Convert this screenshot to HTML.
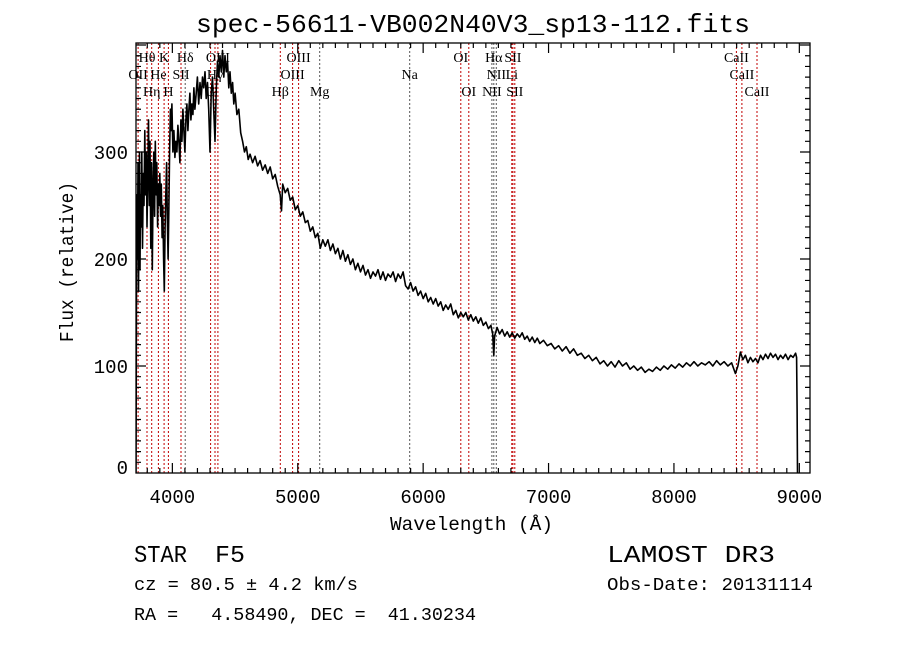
<!DOCTYPE html>
<html><head><meta charset="utf-8"><style>
html,body{margin:0;padding:0;background:#fff}
svg{display:block}
text{font-family:"Liberation Mono",monospace;fill:#000;white-space:pre}
.lab{font-family:"Liberation Serif",serif;font-size:14px}
</style></head><body>
<svg id="chart" width="900" height="649" viewBox="0 0 900 649" xmlns="http://www.w3.org/2000/svg" xml:space="preserve">
<rect width="900" height="649" fill="#fff"/>
<defs><clipPath id="pc"><rect x="136" y="43" width="674" height="430"/></clipPath></defs>
<text x="196" y="32" font-size="26" textLength="554" lengthAdjust="spacingAndGlyphs">spec-56611-VB002N40V3_sp13-112.fits</text>
<g id="lines"></g>
<g id="labels"></g>
<g id="spec" clip-path="url(#pc)"></g>
<g id="axes"></g>
<text x="390" y="530" font-size="19" textLength="163" lengthAdjust="spacingAndGlyphs">Wavelength (Å)</text>
<text transform="translate(73,342) rotate(-90)" font-size="19" textLength="160" lengthAdjust="spacingAndGlyphs">Flux (relative)</text>
<text x="134" y="562" font-size="24" textLength="53" lengthAdjust="spacingAndGlyphs">STAR</text>
<text x="215" y="562" font-size="24" textLength="30" lengthAdjust="spacingAndGlyphs">F5</text>
<text x="607" y="562" font-size="24" textLength="168" lengthAdjust="spacingAndGlyphs">LAMOST DR3</text>
<text x="134" y="590" font-size="18" textLength="224" lengthAdjust="spacingAndGlyphs">cz = 80.5 ± 4.2 km/s</text>
<text x="607" y="590" font-size="18" textLength="206" lengthAdjust="spacingAndGlyphs">Obs-Date: 20131114</text>
<text x="134" y="620" font-size="18" textLength="342" lengthAdjust="spacingAndGlyphs">RA =   4.58490, DEC =  41.30234</text>
</svg>
<script>
const wl=[3710,3714,3718,3722,3726,3730,3734,3738,3742,3746,3750,3756,3762,3768,3774,3780,3786,3792,3798,3804,3810,3816,3822,3828,3834,3840,3846,3852,3858,3864,3870,3876,3882,3888,3894,3900,3906,3912,3918,3924,3930,3936,3942,3948,3954,3960,3966,3972,3978,3984,3990,3996,4004,4012,4020,4028,4036,4044,4052,4060,4068,4076,4084,4092,4100,4108,4116,4124,4132,4140,4148,4156,4164,4172,4180,4190,4200,4210,4220,4230,4240,4250,4260,4270,4280,4290,4300,4310,4320,4330,4340,4350,4360,4370,4380,4390,4400,4410,4420,4430,4440,4450,4460,4470,4480,4490,4500,4515,4530,4545,4560,4575,4590,4605,4620,4640,4660,4680,4700,4720,4740,4760,4780,4800,4820,4840,4860,4870,4880,4900,4920,4940,4960,4980,5000,5020,5040,5060,5080,5100,5120,5140,5160,5180,5200,5220,5240,5260,5280,5300,5320,5340,5360,5380,5400,5420,5440,5460,5480,5500,5520,5540,5560,5580,5600,5620,5640,5660,5680,5700,5720,5740,5760,5780,5800,5820,5840,5860,5880,5900,5920,5940,5960,5980,6000,6020,6040,6060,6080,6100,6120,6140,6160,6180,6200,6220,6240,6260,6280,6300,6320,6340,6360,6380,6400,6420,6440,6460,6480,6500,6520,6540,6555,6563,6570,6590,6610,6630,6650,6670,6690,6710,6730,6750,6770,6790,6810,6830,6850,6870,6890,6910,6930,6960,6990,7020,7050,7080,7110,7140,7170,7200,7230,7260,7290,7320,7350,7380,7410,7440,7470,7500,7530,7560,7590,7620,7650,7680,7710,7740,7770,7800,7830,7860,7890,7920,7950,7980,8010,8040,8070,8100,8130,8160,8190,8220,8250,8280,8310,8340,8370,8400,8430,8460,8490,8510,8530,8550,8570,8590,8610,8630,8650,8670,8690,8710,8730,8750,8770,8790,8810,8830,8850,8870,8890,8910,8930,8950,8970,8978,8982,8985];
const flux=[0,180,260,200,290,170,240,300,190,260,230,300,210,280,250,320,260,300,230,280,330,250,310,210,290,190,270,300,240,310,260,290,230,270,250,280,240,270,220,250,200,170,230,260,290,240,200,250,300,340,320,345,300,320,295,310,300,325,310,290,330,310,340,320,300,330,345,320,340,355,330,345,335,360,340,355,370,345,365,350,370,360,375,350,365,340,300,355,370,340,310,360,385,370,390,375,395,370,390,375,385,360,375,355,365,345,355,335,340,318,310,300,305,293,298,290,296,287,292,283,288,280,286,275,279,268,260,245,270,262,266,255,258,246,250,240,244,234,236,226,230,220,224,210,218,212,218,208,214,205,210,200,208,198,204,195,200,190,196,188,194,185,190,182,188,184,190,181,188,180,186,183,188,179,186,182,188,175,172,178,170,174,166,170,163,168,160,164,158,163,156,160,152,157,153,158,148,152,145,150,146,150,143,148,142,146,140,145,138,141,135,138,130,110,128,136,130,134,128,132,127,131,126,130,127,131,125,128,123,127,122,126,121,124,119,121,116,119,114,118,112,116,110,112,107,110,105,108,102,105,100,104,99,105,100,103,97,100,96,99,94,97,95,99,96,100,97,101,98,102,99,103,100,104,100,103,101,104,100,105,101,104,100,103,93,100,113,106,110,103,108,104,107,103,110,106,111,107,112,108,111,106,110,107,111,106,110,108,112,108,60,0];
const lineWl=[3727,3798,3835,3889,3934,3968,4069,4102,4305,4340,4363,4861,4959,5007,5175,5893,6300,6364,6548,6563,6583,6707,6716,6731,8498,8542,8662];
const lineNames=["OII","Hθ","Hη","He","K","H","SII","Hδ","G","Hγ","OIII","Hβ","OIII","OIII","Mg","Na","OI","OI","NII","Hα","NII","Li","SII","SII","CaII","CaII","CaII"];
const lineRows=[2,1,3,2,1,3,2,1,3,2,1,3,2,1,3,2,1,3,3,1,2,2,1,3,1,2,3];
const darkLines=["Hδ","Mg","Na","NII","Hα"];
const xTicks=[4000,5000,6000,7000,8000,9000];
const yTicks=[0,100,200,300];
const X0=136,X1=810,Y0=473,Y1=43,WMIN=3710,WMAX=9085,FMAX=401.9;
const sx=w=>X0+(w-WMIN)/(WMAX-WMIN)*(X1-X0);
const sy=f=>Y0-f/FMAX*(Y0-Y1);
const NS="http://www.w3.org/2000/svg";
function mk(t,a,p){const e=document.createElementNS(NS,t);for(const k in a)e.setAttribute(k,a[k]);p.appendChild(e);return e;}
const gl=document.getElementById('lines'),glab=document.getElementById('labels');
lineWl.forEach((w,i)=>{
  const x=sx(w).toFixed(1);
  const l=mk('line',{x1:x,x2:x,y1:Y1,y2:Y0,stroke:darkLines.includes(lineNames[i])?'#555':'#c00000','stroke-width':1,'stroke-dasharray':'2,2'},gl);
  
  
  const t=mk('text',{x:x,y:62+(lineRows[i]-1)*17,'text-anchor':'middle',class:'lab'},glab);
  t.textContent=lineNames[i];
  
  
});
const gs=document.getElementById('spec');
let d='';wl.forEach((w,i)=>{d+=(i?'L':'M')+sx(w).toFixed(1)+','+sy(flux[i]).toFixed(1);});
const p=mk('path',{d:d,fill:'none',stroke:'#000','stroke-width':1.6,'stroke-linejoin':'round'},gs);


const ga=document.getElementById('axes');
const fr=mk('rect',{x:X0,y:Y1,width:X1-X0,height:Y0-Y1,fill:'none',stroke:'#000','stroke-width':1.3},ga);


let td='';
for(let w=3800;w<=WMAX;w+=100){const x=sx(w);const L=(w%1000===0)?10:5;td+=`M${x},${Y0}v${-L}M${x},${Y1}v${L}`;}
for(let f=10;f<FMAX;f+=10){const y=sy(f);const L=(f%100===0)?10:5;td+=`M${X0},${y}h${L}M${X1},${y}h${-L}`;}
const tk=mk('path',{d:td,stroke:'#000','stroke-width':1.2,fill:'none'},ga);


xTicks.forEach(v=>{const t=mk('text',{x:sx(v),y:503,'text-anchor':'middle','font-size':19},ga);t.textContent=v;
  
  });
yTicks.forEach(v=>{const t=mk('text',{x:128,y:Math.min(sy(v)+7,474),'text-anchor':'end','font-size':19},ga);t.textContent=v;
  
  });
</script>
</body></html>
